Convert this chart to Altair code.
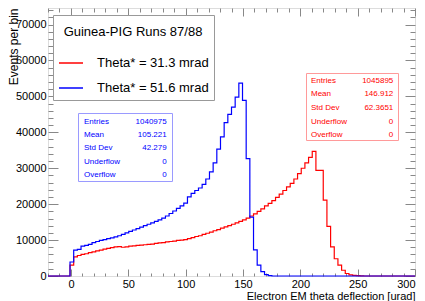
import altair as alt
import pandas as pd

# ---------------- data ----------------
series_labels = ["Theta* = 31.3 mrad", "Theta* = 51.6 mrad"]
legend_title = "Guinea-PIG Runs 87/88"
x_title = "Electron EM theta deflection [urad]"
y_title = "Events per bin"

bin_start = -20
bin_width = 3.2
n_bins = 100
bin_left = [round(bin_start + bin_width * i, 2) for i in range(n_bins)]

red_counts = [
    0, 0, 0, 0, 0, 0, 3000, 5300, 5700, 6000,
    6200, 6500, 6700, 7000, 7200, 7500, 7700, 7900, 8100, 8200,
    8000, 8100, 8300, 8400, 8500, 8600, 8700, 8800, 8900, 9100,
    9200, 9300, 9500, 9600, 9700, 9900, 10000, 10100, 10400, 10700,
    11000, 11200, 11600, 11900, 12200, 12600, 12900, 13300, 13700, 14000,
    14400, 14800, 15200, 15600, 16100, 16700, 17300, 18000, 18700, 19500,
    20200, 21000, 21900, 22800, 23800, 24800, 25800, 27000, 28500, 30000,
    31500, 33000, 34700, 29400, 29400, 21100, 13800, 8100, 4800, 3000,
    1600, 700, 300, 200, 100, 50, 0, 0, 0, 0,
    0, 0, 0, 0, 0, 0, 0, 0, 0, 0,
]

blue_counts = [
    0, 0, 0, 0, 0, 0, 3900, 7200, 7400, 8300,
    8500, 8800, 9300, 9600, 9900, 10100, 10400, 10600, 10900, 11200,
    11600, 12000, 12400, 12800, 13200, 13600, 14000, 14400, 14800, 15200,
    15600, 16100, 16700, 17400, 18100, 18800, 19500, 20300, 22000, 23000,
    23800, 24500, 25500, 27000, 29000, 31500, 35300, 38700, 42700, 45000,
    47000, 49800, 53700, 48900, 32700, 16400, 7300, 3000, 1200, 400,
    120, 0, 0, 0, 0, 0, 0, 0, 0, 0,
    0, 0, 0, 0, 0, 0, 0, 0, 0, 0,
    0, 0, 0, 0, 0, 0, 0, 0, 0, 0,
    0, 0, 0, 0, 0, 0, 0, 0, 0, 0,
]

stat_names = ["Entries", "Mean", "Std Dev", "Underflow", "Overflow"]
red_stats = ["1045895", "146.912", "62.3651", "0", "0"]
blue_stats = ["1040975", "105.221", "42.279", "0", "0"]

x_major = [0, 50, 100, 150, 200, 250, 300]
x_minor = list(range(-20, 301, 10))
y_major = [0, 10000, 20000, 30000, 40000, 50000, 60000, 70000]
y_minor = list(range(0, 74001, 2000))

# ---------------- style ----------------
FONT = "Liberation Sans"
RED = "#ff0000"
BLUE = "#0000ff"
FRAME = "#888888"
W, H = 367, 268
X_DOM = [-20, 300]
Y_DOM = [0, 74600]


def step_frame(counts, name):
    xs = bin_left + [300]
    ys = counts + [counts[-1]]
    return pd.DataFrame({"x": xs, "y": ys, "series": name})


red_df = step_frame(red_counts, series_labels[0])
blue_df = step_frame(blue_counts, series_labels[1])

xs = alt.Scale(domain=X_DOM, nice=False, zero=False)
ys = alt.Scale(domain=Y_DOM, nice=False, zero=False)

color = alt.Color(
    "series:N",
    scale=alt.Scale(domain=series_labels, range=[RED, BLUE]),
    legend=alt.Legend(
        orient="none", legendX=5, legendY=7, direction="vertical",
        title=legend_title, titleFont=FONT, titleFontSize=13,
        titleFontWeight="normal", titleColor="black", titleAnchor="middle",
        titleBaseline="line-top", titleLineHeight=24,
        titlePadding=17, labelFont=FONT, labelFontSize=13, labelColor="black",
        symbolType="stroke", symbolSize=576, symbolStrokeWidth=1.5,
        labelOffset=13, rowPadding=5, padding=5,
        strokeColor="#999999", fillColor="white", cornerRadius=0,
    ),
)


def tick_axis(orient, offset, values, test, big, small):
    return alt.Axis(
        orient=orient, offset=offset, values=values, labels=False,
        domain=False, grid=False, title=None, tickColor=FRAME, tickWidth=1,
        tickSize={"condition": {"test": test, "value": big}, "value": small},
    )


x_label_axis = alt.Axis(
    orient="bottom", values=x_major, format="d", ticks=False, domain=False,
    grid=False, labelFont=FONT, labelFontSize=11, labelColor="black",
    labelPadding=2, labelFlush=True, title=x_title, titleFont=FONT,
    titleFontSize=11, titleFontWeight="normal", titleColor="black",
    titleAnchor="end", titleAlign="right", titleX=W, titleY=23,
    titleBaseline="alphabetic",
)
y_label_axis = alt.Axis(
    orient="left", values=y_major, format="d", ticks=False, domain=False,
    grid=False, labelFont=FONT, labelFontSize=11, labelColor="black",
    labelPadding=2, title=y_title, titleFont=FONT, titleFontSize=12,
    titleFontWeight="normal", titleColor="black", titleAngle=270,
    titleAlign="right", titleBaseline="alphabetic", titleX=-31, titleY=0,
)

red_layer = alt.Chart(red_df).mark_line(
    interpolate="step-after", strokeWidth=1.2
).encode(
    x=alt.X("x:Q", scale=xs, axis=x_label_axis),
    y=alt.Y("y:Q", scale=ys, axis=y_label_axis),
    color=color,
)

blue_layer = alt.Chart(blue_df).mark_line(
    interpolate="step-after", strokeWidth=1.2
).encode(
    x=alt.X("x:Q", scale=xs,
            axis=tick_axis("top", -H, x_minor, "datum.value % 50 === 0", 7, 3)),
    y=alt.Y("y:Q", scale=ys,
            axis=tick_axis("right", -W, y_minor, "datum.value % 10000 === 0", 10, 5)),
    color=color,
)

frame_ticks = alt.Chart(blue_df).mark_point(opacity=0).encode(
    x=alt.X("x:Q", scale=xs,
            axis=tick_axis("bottom", -H, x_minor, "datum.value % 50 === 0", 8, 4)),
    y=alt.Y("y:Q", scale=ys,
            axis=tick_axis("left", -W, y_minor, "datum.value % 10000 === 0", 10, 5)),
)


def stats_box(vals, col, border, bx0, bx1, by0, by1, tx0, tx1, ty, lh):
    one = pd.DataFrame({"k": [0]})
    box = alt.Chart(one).mark_rect(
        fill="white", stroke=border, strokeWidth=1
    ).encode(x=alt.value(bx0), x2=alt.value(bx1), y=alt.value(by0), y2=alt.value(by1))
    names = alt.Chart(pd.DataFrame({"t": ["\n".join(stat_names)]})).mark_text(
        lineBreak="\n", lineHeight=lh, align="left", baseline="alphabetic",
        font=FONT, fontSize=8, color=col,
    ).encode(x=alt.value(tx0), y=alt.value(ty), text="t:N")
    nums = alt.Chart(pd.DataFrame({"t": ["\n".join(vals)]})).mark_text(
        lineBreak="\n", lineHeight=lh, align="right", baseline="alphabetic",
        font=FONT, fontSize=8, color=col,
    ).encode(x=alt.value(tx1), y=alt.value(ty), text="t:N")
    return [box, names, nums]


blue_box = stats_box(blue_stats, BLUE, "#9a9aff", 30.5, 124.5, 105.5, 173.5,
                     36, 118.7, 115.6, 13.4)
red_box = stats_box(red_stats, RED, "#ff9a9a", 258.5, 350.5, 65.5, 132.5,
                    263, 345.3, 74.9, 13.6)

chart = alt.layer(
    red_layer, blue_layer, frame_ticks, *blue_box, *red_box
).resolve_axis(
    x="independent", y="independent"
).properties(
    width=W, height=H,
    padding={"left": 40, "top": 0, "right": 2, "bottom": 25},
    autosize=alt.AutoSizeParams(type="none"),
).configure_view(
    stroke=FRAME, strokeWidth=1
).configure(background="white")

chart.save("out.html", embed_options={"renderer": "svg", "actions": False})
